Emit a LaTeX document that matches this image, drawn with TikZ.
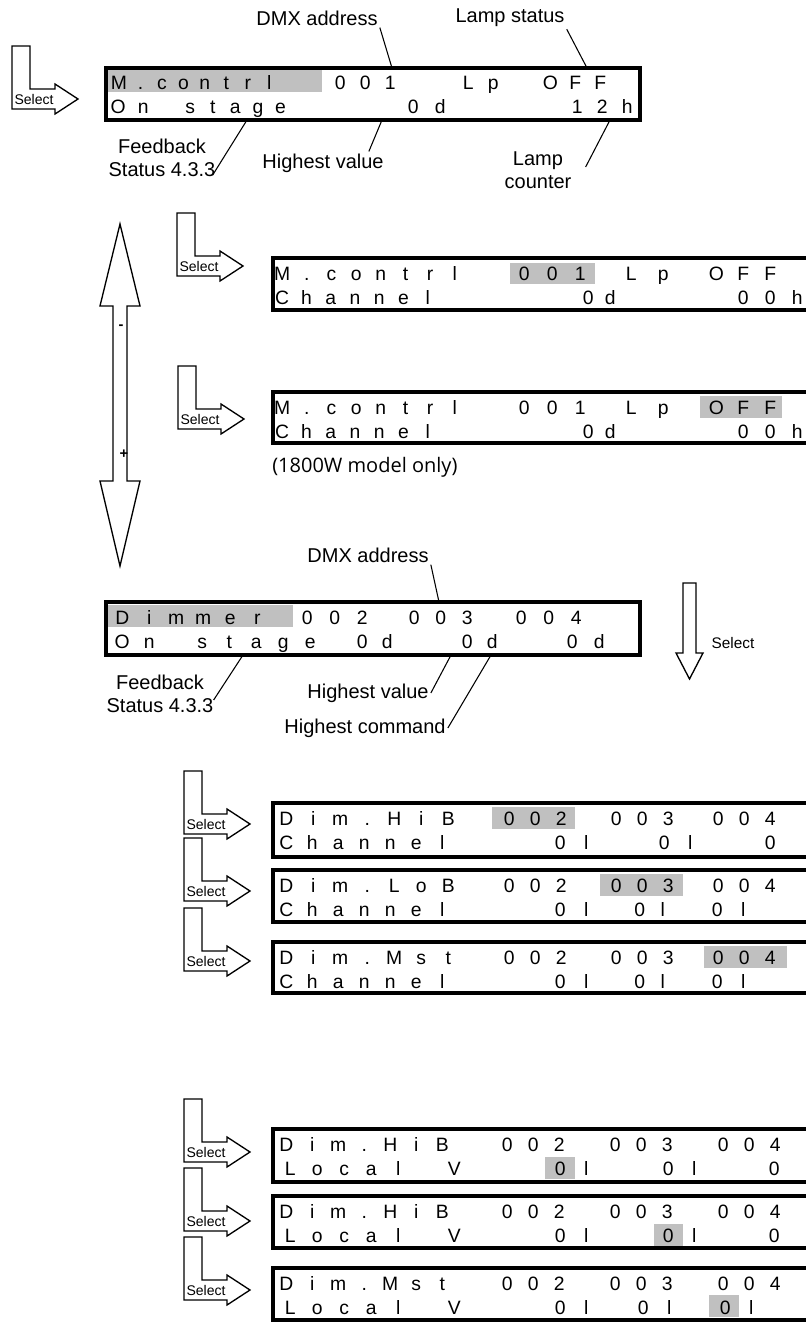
\documentclass[tikz,border=0pt]{standalone}
\usepackage{fontspec}
\setmainfont{Liberation Sans}
\newfontfamily\notefont{Open Sans}
\usepackage{xcolor}
\definecolor{cHi}{HTML}{C0C0C0}
\usetikzlibrary{calc,fit}
\newcommand\lcdfont{\fontsize{14.5}{16}\selectfont}
\newcommand\lblfont{\fontsize{15}{17.25}\selectfont}
% one character per cell, like the display
\ExplSyntaxOn
\NewDocumentCommand \lcd { O{19.5pt} m }
  { \tl_map_inline:nn {#2} { \makebox[#1]{##1} } }
\ExplSyntaxOff
\tikzset{
  lcd-box/.style={draw,line width=2.4pt,inner sep=0pt,outer sep=0pt},
  lcd-hi/.style={fill=cHi},
  lcd-txt/.style={font=\lcdfont,anchor=base west,inner sep=0pt},
  lbl/.style={font=\lblfont,align=center,inner sep=1.5pt},
  leader/.style={line width=0.8pt},
  arrow-out/.style={draw,line width=1pt,fill=white,line join=miter},
  sel-txt/.style={font=\fontsize{10.5}{11}\selectfont,inner sep=0pt},
  sign/.style={font=\bfseries\fontsize{11}{12}\selectfont,inner sep=0pt},
  select-arrow/.pic={
    \draw[arrow-out] (0,0) -- (18,0) -- (18,43) -- (43,43) -- (43,38)
      -- (66,53) -- (43,68) -- (43,63) -- (0,63) -- cycle;
    \node[sel-txt] (-txt) at (22,53) {Select};
  },
}
\begin{document}
\begin{tikzpicture}[x=0.75pt,y=-0.75pt]
  \useasboundingbox (0,0) rectangle (806,1325);
  % main display
  \pic (sel1) at (12,46) {select-arrow};
  \fill[lcd-hi] (107,70) rectangle (322,92);
  \node[lcd-box,fit={(106,68) (640,120)}] (box1) {};
  \node[lcd-txt] (b1r1a) at (108,89) {\lcd[16.1pt]{M.contrl}};
  \node[lcd-txt] (b1r1b) at (327.5,89) {\lcd[18.75pt]{001}};
  \node[lcd-txt] (b1r1c) at (455.5,89) {\lcd[18.75pt]{Lp}};
  \node[lcd-txt] (b1r1d) at (537.5,89) {\lcd[18.75pt]{OFF}};
  \node[lcd-txt] (b1r2a) at (105.5,113) {\lcd[18.75pt]{On}};
  \node[lcd-txt] (b1r2b) at (178.75,113) {\lcd[16.9pt]{stage}};
  \node[lcd-txt] (b1r2c) at (399.5,113) {\lcd[20.25pt]{0d}};
  \node[lcd-txt] (b1r2d) at (564.5,113) {\lcd[18.75pt]{12h}};
  \node[lbl] (dmx1) at (317,18) {DMX address};
  \node[lbl] (lampst) at (510,18) {Lamp status};
  \node[lbl] (fb1) at (162,158) {Feedback\\Status 4.3.3};
  \node[lbl] (hv1) at (323,163) {Highest value};
  \node[lbl] (lampcnt) at (538,170) {Lamp\\counter};
  \draw[leader] (dmx1.south east) -- ($(box1.north west)+(286,0)$);
  \draw[leader] (lampst.south east) -- ($(box1.north west)+(481,0)$);
  \draw[leader] ($(box1.south west)+(141,0)$) -- ($(fb1.south east)+(-5,-4)$);
  \draw[leader] ($(box1.south west)+(276,0)$) -- ($(hv1.north east)+(-17,0)$);
  \draw[leader] ($(box1.south west)+(504,0)$) -- ($(lampcnt.east)+(12,-3)$);

  % address and lamp
  \draw[arrow-out] (120,224) -- (140,306) -- (127,306) -- (127,481) -- (140,481)
    -- (120,566) -- (100,481) -- (113,481) -- (113,306) -- (100,306) -- cycle;
  \node[sign] (minus) at (121,327) {-};
  \node[sign] (plus) at (124,454) {+};
  \pic (sel2) at (177,213) {select-arrow};
  \fill[lcd-hi] (510,263) rectangle (595,284);
  \node[lcd-box,fit={(273,258) (830,310)}] (box2) {};
  \node[lcd-txt] (b2r1a) at (269.6,280) {\lcd[18.5pt]{M.contrl}};
  \node[lcd-txt] (b2r1b) at (510,280) {\lcd[21pt]{001}};
  \node[lcd-txt] (b2r1c) at (615,280) {\lcd[24pt]{Lp}};
  \node[lcd-txt] (b2r1d) at (702.5,280) {\lcd[20.25pt]{OFF}};
  \node[lcd-txt] (b2r2a) at (269.8,304) {\lcd[18.2pt]{Channel}};
  \node[lcd-txt] (b2r2b) at (577,304) {\lcd[16.5pt]{0d}};
  \node[lcd-txt] (b2r2c) at (729.5,304) {\lcd[20.25pt]{00h}};
  \pic (sel3) at (178,366) {select-arrow};
  \fill[lcd-hi] (700,396) rectangle (782,418);
  \node[lcd-box,fit={(273,392) (830,443)}] (box3) {};
  \node[lcd-txt] (b3r1a) at (269.6,414) {\lcd[18.5pt]{M.contrl}};
  \node[lcd-txt] (b3r1b) at (510,414) {\lcd[21pt]{001}};
  \node[lcd-txt] (b3r1c) at (615,414) {\lcd[24pt]{Lp}};
  \node[lcd-txt] (b3r1d) at (702.5,414) {\lcd[20.25pt]{OFF}};
  \node[lcd-txt] (b3r2a) at (269.8,438) {\lcd[18.2pt]{Channel}};
  \node[lcd-txt] (b3r2b) at (577,438) {\lcd[16.5pt]{0d}};
  \node[lcd-txt] (b3r2c) at (729.5,438) {\lcd[20.25pt]{00h}};
  \node[font=\notefont\fontsize{15}{17}\selectfont,anchor=west,inner sep=0pt]
    (note) at (272,467) {(1800W model only)};

  % dimmer display
  \node[lbl] (dmx2) at (368,555) {DMX address};
  \fill[lcd-hi] (107,605) rectangle (293,627);
  \node[lcd-box,fit={(106,602) (640,655)}] (boxD) {};
  \node[lcd-txt] (bDr1a) at (108.5,624) {\lcd[20.25pt]{Dimmer}};
  \node[lcd-txt] (bDr1b) at (293.25,624) {\lcd[20.6pt]{002}};
  \node[lcd-txt] (bDr1c) at (400.75,624) {\lcd[19.9pt]{003}};
  \node[lcd-txt] (bDr1d) at (507.25,624) {\lcd[20.6pt]{004}};
  \node[lcd-txt] (bDr2a) at (108.5,648) {\lcd[20.25pt]{On}};
  \node[lcd-txt] (bDr2b) at (188.5,648) {\lcd[20.25pt]{stage}};
  \node[lcd-txt] (bDr2c) at (349.5,648) {\lcd[18.75pt]{0d}};
  \node[lcd-txt] (bDr2d) at (454.5,648) {\lcd[18.75pt]{0d}};
  \node[lcd-txt] (bDr2e) at (558.5,648) {\lcd[20.25pt]{0d}};
  \node[lbl] (fb2) at (160,694) {Feedback\\Status 4.3.3};
  \node[lbl] (hv2) at (368,693) {Highest value};
  \node[lbl] (hc) at (365,728) {Highest command};
  \draw[leader] (dmx2.south east) -- ($(boxD.north west)+(333,0)$);
  \draw[leader] ($(boxD.south west)+(137,0)$) -- ($(fb2.east)+(-2,6)$);
  \draw[leader] ($(boxD.south west)+(345,0)$) -- (hv2.east);
  \draw[leader] ($(boxD.south west)+(385,0)$) -- (hc.east);
  \draw[arrow-out] (683,583) -- (696,583) -- (696,653) -- (703,653) -- (689.5,679)
    -- (676,653) -- (683,653) -- cycle;
  \node[font=\fontsize{11.5}{12}\selectfont,inner sep=0pt] (selD) at (733,643) {Select};

  % dimmer channels
  \pic (sel4) at (184,771) {select-arrow};
  \fill[lcd-hi] (492,807) rectangle (575,829);
  \node[lcd-box,fit={(273,803) (830,857)}] (box4) {};
  \node[lcd-txt] (b4r1a) at (272.5,825) {\lcd[20.25pt]{Dim.HiB}};
  \node[lcd-txt] (b4r1b) at (496,825) {\lcd{002}};
  \node[lcd-txt] (b4r1c) at (603,825) {\lcd{003}};
  \node[lcd-txt] (b4r1d) at (705,825) {\lcd{004}};
  \node[lcd-txt] (b4r2a) at (273,849) {\lcd{Channel}};
  \node[lcd-txt] (b4r2b) at (547,849) {\lcd{0l}};
  \node[lcd-txt] (b4r2c) at (651,849) {\lcd{0l}};
  \node[lcd-txt] (b4r2d) at (757,849) {\lcd{0}};
  \pic (sel5) at (184,838) {select-arrow};
  \fill[lcd-hi] (600,874) rectangle (683,896);
  \node[lcd-box,fit={(273,870) (830,922)}] (box5) {};
  \node[lcd-txt] (b5r1a) at (272.5,892) {\lcd[20.25pt]{Dim.LoB}};
  \node[lcd-txt] (b5r1b) at (496,892) {\lcd{002}};
  \node[lcd-txt] (b5r1c) at (603,892) {\lcd{003}};
  \node[lcd-txt] (b5r1d) at (705,892) {\lcd{004}};
  \node[lcd-txt] (b5r2a) at (273,916) {\lcd{Channel}};
  \node[lcd-txt] (b5r2b) at (547,916) {\lcd{0l}};
  \node[lcd-txt] (b5r2c) at (628,916) {\lcd[17.25pt]{0l}};
  \node[lcd-txt] (b5r2d) at (704,916) {\lcd{0l}};
  \pic (sel6) at (184,908) {select-arrow};
  \fill[lcd-hi] (704,946) rectangle (787,968);
  \node[lcd-box,fit={(273,942) (830,993)}] (box6) {};
  \node[lcd-txt] (b6r1a) at (272.5,964) {\lcd[20.25pt]{Dim.Mst}};
  \node[lcd-txt] (b6r1b) at (496,964) {\lcd{002}};
  \node[lcd-txt] (b6r1c) at (603,964) {\lcd{003}};
  \node[lcd-txt] (b6r1d) at (705,964) {\lcd{004}};
  \node[lcd-txt] (b6r2a) at (273,988) {\lcd{Channel}};
  \node[lcd-txt] (b6r2b) at (547,988) {\lcd{0l}};
  \node[lcd-txt] (b6r2c) at (628,988) {\lcd[17.25pt]{0l}};
  \node[lcd-txt] (b6r2d) at (704,988) {\lcd{0l}};

  % local values
  \pic (sel7) at (184,1099) {select-arrow};
  \fill[lcd-hi] (545,1157) rectangle (575,1179);
  \node[lcd-box,fit={(273,1129) (830,1182)}] (box7) {};
  \node[lcd-txt] (b7r1a) at (273,1151) {\lcd{Dim.HiB}};
  \node[lcd-txt] (b7r1b) at (494,1151) {\lcd{002}};
  \node[lcd-txt] (b7r1c) at (602,1151) {\lcd{003}};
  \node[lcd-txt] (b7r1d) at (710,1151) {\lcd{004}};
  \node[lcd-txt] (b7r2a) at (276.5,1175) {\lcd[20.25pt]{Local}};
  \node[lcd-txt] (b7r2b) at (441,1175) {\lcd{V}};
  \node[lcd-txt] (b7r2c) at (547,1175) {\lcd{0l}};
  \node[lcd-txt] (b7r2d) at (655,1175) {\lcd{0l}};
  \node[lcd-txt] (b7r2e) at (761,1175) {\lcd{0}};
  \pic (sel8) at (184,1168) {select-arrow};
  \fill[lcd-hi] (654,1224) rectangle (683,1246);
  \node[lcd-box,fit={(273,1196) (830,1248)}] (box8) {};
  \node[lcd-txt] (b8r1a) at (273,1218) {\lcd{Dim.HiB}};
  \node[lcd-txt] (b8r1b) at (494,1218) {\lcd{002}};
  \node[lcd-txt] (b8r1c) at (602,1218) {\lcd{003}};
  \node[lcd-txt] (b8r1d) at (710,1218) {\lcd{004}};
  \node[lcd-txt] (b8r2a) at (276.5,1242) {\lcd[20.25pt]{Local}};
  \node[lcd-txt] (b8r2b) at (441,1242) {\lcd{V}};
  \node[lcd-txt] (b8r2c) at (547,1242) {\lcd{0l}};
  \node[lcd-txt] (b8r2d) at (655,1242) {\lcd{0l}};
  \node[lcd-txt] (b8r2e) at (761,1242) {\lcd{0}};
  \pic (sel9) at (184,1237) {select-arrow};
  \fill[lcd-hi] (709,1295) rectangle (739,1317);
  \node[lcd-box,fit={(273,1268) (830,1320)}] (box9) {};
  \node[lcd-txt] (b9r1a) at (273,1290) {\lcd{Dim.Mst}};
  \node[lcd-txt] (b9r1b) at (494,1290) {\lcd{002}};
  \node[lcd-txt] (b9r1c) at (602,1290) {\lcd{003}};
  \node[lcd-txt] (b9r1d) at (710,1290) {\lcd{004}};
  \node[lcd-txt] (b9r2a) at (276.5,1314) {\lcd[20.25pt]{Local}};
  \node[lcd-txt] (b9r2b) at (441,1314) {\lcd{V}};
  \node[lcd-txt] (b9r2c) at (547,1314) {\lcd{0l}};
  \node[lcd-txt] (b9r2d) at (630,1314) {\lcd{0l}};
  \node[lcd-txt] (b9r2e) at (712,1314) {\lcd{0l}};
\end{tikzpicture}
\end{document}
